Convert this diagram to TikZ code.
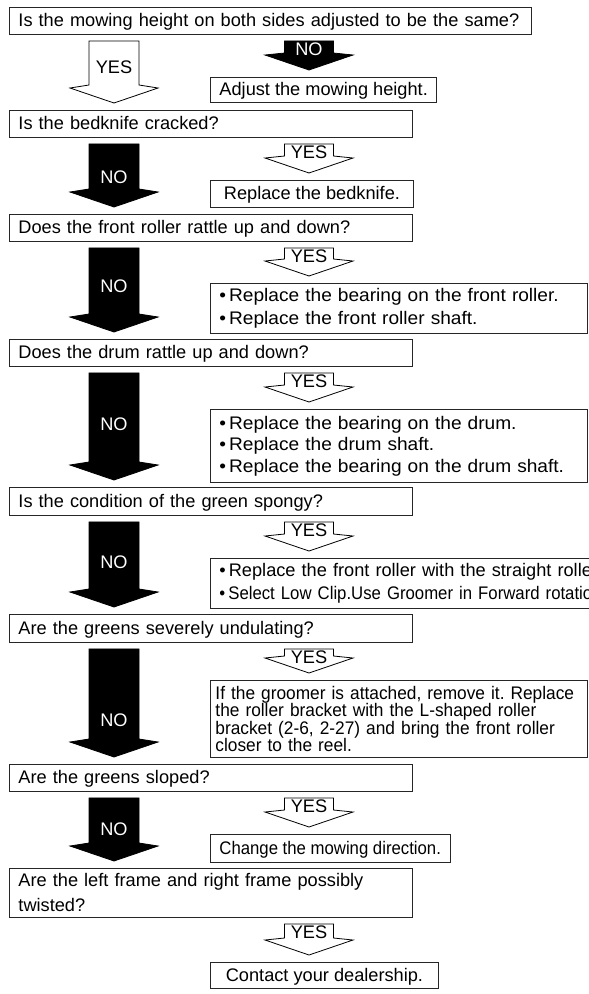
\documentclass[tikz,border=0pt]{standalone}
\usepackage{fontspec}
\setmainfont{Liberation Sans}
\newfontfamily\narrowfont[FakeStretch=0.92]{Liberation Sans}
\newfontfamily\groomerfont[FakeStretch=0.95]{Liberation Sans}
\newfontfamily\widefont[FakeStretch=1.05]{Liberation Sans}
\usetikzlibrary{positioning,calc}

% block arrow from one box down to the next (left column)
\newcommand{\bigflow}[5]{%
  \draw[#1shape] let \p1=(#2.south), \p2=(#3.north) in
    (89,\y1-6pt) -- (139,\y1-6pt) -- (139,\y2+25pt) -- (158,\y2+22pt)
    -- (114,\y2+7pt) -- (70,\y2+22pt) -- (89,\y2+25pt) -- cycle
    (114,\y1-6pt-#4pt) node[anchor=base, #1text] {#5};
}
% small block arrow from a question to its remedy
\newcommand{\sideflow}[4]{%
  \draw[#1shape] let \p1=(#2.south), \p2=(#3.north) in
    (284.5,\y1-6pt) -- (333.5,\y1-6pt) -- (333.5,\y2+24pt) -- (353,\y2+22pt)
    -- (309,\y2+7pt) -- (265,\y2+22pt) -- (284.5,\y2+24pt) -- cycle
    (309,\y1-20.5pt) node[anchor=base, #1text] {#4};
}

\tikzset{
  box/.style={draw=black!85, line width=0.9pt, anchor=north west, align=left,
    inner xsep=9pt, inner ysep=0pt, font=\fontsize{18.2}{23}\selectfont},
  oneline/.style={text height=14.5pt, text depth=3pt},
  noshape/.style={draw=black, fill=black, line width=0.8pt},
  yesshape/.style={draw=black, fill=white, line width=0.8pt},
  notext/.style={text=white, inner sep=0pt, font=\fontsize{18.2}{22}\selectfont},
  yestext/.style={text=black, inner sep=0pt, font=\fontsize{18.2}{22}\selectfont},
}

\begin{document}
\begin{tikzpicture}[x=1pt, y=-1pt]
\useasboundingbox (0,0) rectangle (589,994);
\clip (0,0) rectangle (589,994);

% questions
\node[box, oneline, text width=504pt, minimum height=27pt] (question_1) at (9,7) {Is the mowing height on both sides adjusted to be the same?};
\node[box, oneline, text width=385pt, minimum height=27pt] (question_2) at (9,110) {Is the bedknife cracked?};
\node[box, oneline, text width=385pt, minimum height=27pt] (question_3) at (9,214) {Does the front roller rattle up and down?};
\node[box, oneline, text width=385pt, minimum height=27pt] (question_4) at (9,339) {Does the drum rattle up and down?};
\node[box, oneline, text width=385pt, minimum height=28pt] (question_5) at (9,487) {Is the condition of the green spongy?};
\node[box, oneline, text width=385pt, minimum height=28pt] (question_6) at (9,614) {Are the greens severely undulating?};
\node[box, oneline, text width=385pt, minimum height=27pt] (question_7) at (9,764) {Are the greens sloped?};
\node[box, text width=385pt, minimum height=49pt, font=\fontsize{18.2}{25}\selectfont] (question_8) at (9,868) {Are the left frame and right frame possibly\\twisted?};

% remedies
\node[box, oneline, align=center, text width=, minimum width=224pt, minimum height=25pt] (action_1) at (210,77) {Adjust the mowing height.};
\node[box, oneline, align=center, text width=, minimum width=203pt, minimum height=27pt] (action_2) at (210,180) {Replace the bedknife.};
\node[box, text width=359pt, minimum height=50pt, font=\fontsize{18.2}{23}\widefont] (action_3) at (210,283) {\textbullet\,Replace the bearing on the front roller.\\\textbullet\,Replace the front roller shaft.};
\node[box, text width=359pt, minimum height=73pt, font=\fontsize{18.2}{21.5}\widefont] (action_4) at (210,409) {\textbullet\,Replace the bearing on the drum.\\\textbullet\,Replace the drum shaft.\\\textbullet\,Replace the bearing on the drum shaft.};
\node[box, text width=500pt, minimum height=50pt] (action_5) at (210,558) {\textbullet\,Replace the front roller with the straight roller.\\{\narrowfont\textbullet\,Select Low Clip.Use Groomer in Forward rotation.}};
\node[box, inner xsep=5pt, text width=367pt, minimum height=77pt, font=\fontsize{18.2}{17.5}\groomerfont\frenchspacing] (action_6) at (210,680) {\mbox{If the groomer is attached, remove it. Replace}\\\mbox{the roller bracket with the L-shaped roller}\\\mbox{bracket (2-6, 2-27) and bring the front roller}\\closer to the reel.};
\node[box, oneline, align=center, text width=, minimum width=234pt, minimum height=28pt, font=\fontsize{18.2}{22}\narrowfont] (action_7) at (210,834) {Change the mowing direction.};
\node[box, oneline, align=center, text width=, minimum width=228pt, minimum height=26pt] (action_8) at (210,962) {Contact your dealership.};

% NO / YES arrows
\bigflow{yes}{question_1}{question_2}{33}{YES}
\sideflow{no}{question_1}{action_1}{NO}
\bigflow{no}{question_2}{question_3}{40}{NO}
\sideflow{yes}{question_2}{action_2}{YES}
\bigflow{no}{question_3}{question_4}{45}{NO}
\sideflow{yes}{question_3}{action_3}{YES}
\bigflow{no}{question_4}{question_5}{58}{NO}
\sideflow{yes}{question_4}{action_4}{YES}
\bigflow{no}{question_5}{question_6}{47}{NO}
\sideflow{yes}{question_5}{action_5}{YES}
\bigflow{no}{question_6}{question_7}{78}{NO}
\sideflow{yes}{question_6}{action_6}{YES}
\bigflow{no}{question_7}{question_8}{38}{NO}
\sideflow{yes}{question_7}{action_7}{YES}
\sideflow{yes}{question_8}{action_8}{YES}

\end{tikzpicture}
\end{document}
